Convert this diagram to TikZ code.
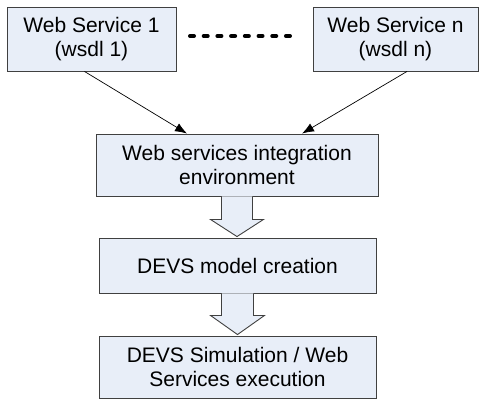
\documentclass[tikz,border=0pt]{standalone}
\usepackage{fontspec}
\setmainfont{Liberation Sans}
\usetikzlibrary{arrows.meta,calc}
\definecolor{boxfill}{HTML}{E8EEF8}
\definecolor{boxline}{HTML}{404040}
\tikzset{
    box/.style={draw=boxline, fill=boxfill, line width=0.9pt, align=center, inner sep=0pt,
        font=\fontsize{21}{24.5}\selectfont},
    conn/.style={-{Latex[length=12pt,width=9pt]}, line width=0.7pt},
    blockarrow/.style={draw=boxline, fill=boxfill, line width=0.9pt}
}
\begin{document}
\begin{tikzpicture}[x=1pt, y=-1pt]
        \useasboundingbox (0,0) rectangle (479,399);

        \node(ws1) at (91.5,39)[box, minimum width=169pt, minimum height=64pt]{Web Service 1\\(wsdl 1)};
        \node(wsn) at (395.5,39)[box, minimum width=165pt, minimum height=64pt]{Web Service n\\(wsdl n)};
        \node(integ) at (237,165)[box, minimum width=282pt, minimum height=62pt]{Web services integration\\environment};
        \node(model) at (237.5,265.5)[box, minimum width=277pt, minimum height=55pt]{DEVS model creation};
        \node(exec) at (237.5,367)[box, minimum width=277pt, minimum height=62pt]{DEVS Simulation / Web\\Services execution};

        % dotted gap between the services
        \coordinate(dotsL) at (190,36);
        \coordinate(dotsR) at (294,36);
        \draw[line width=4pt, line cap=round, dash pattern=on 4pt off 9.71pt] (dotsL) -- (dotsR);

        \draw[conn]([xshift=-7pt]ws1.south) -- ([xshift=-50pt]integ.north);
        \draw[conn]([xshift=11.5pt]wsn.south) -- ([xshift=65pt]integ.north);

        % hollow block arrows
        \draw[blockarrow]($(integ.south)+(-15.5,0)$) -- ++(0,23) -- ++(-11,0) -- ($(model.north)+(-0.5,-1)$)
            -- ($(integ.south)+(26.5,23)$) -- ++(-11,0) -- ($(integ.south)+(15.5,0)$);
        \draw[blockarrow]($(model.south)+(-16,0)$) -- ++(0,22) -- ++(-11,0) -- ($(exec.north)+(0,-1)$)
            -- ($(model.south)+(27,22)$) -- ++(-11,0) -- ($(model.south)+(16,0)$);

    \end{tikzpicture}
\end{document}
